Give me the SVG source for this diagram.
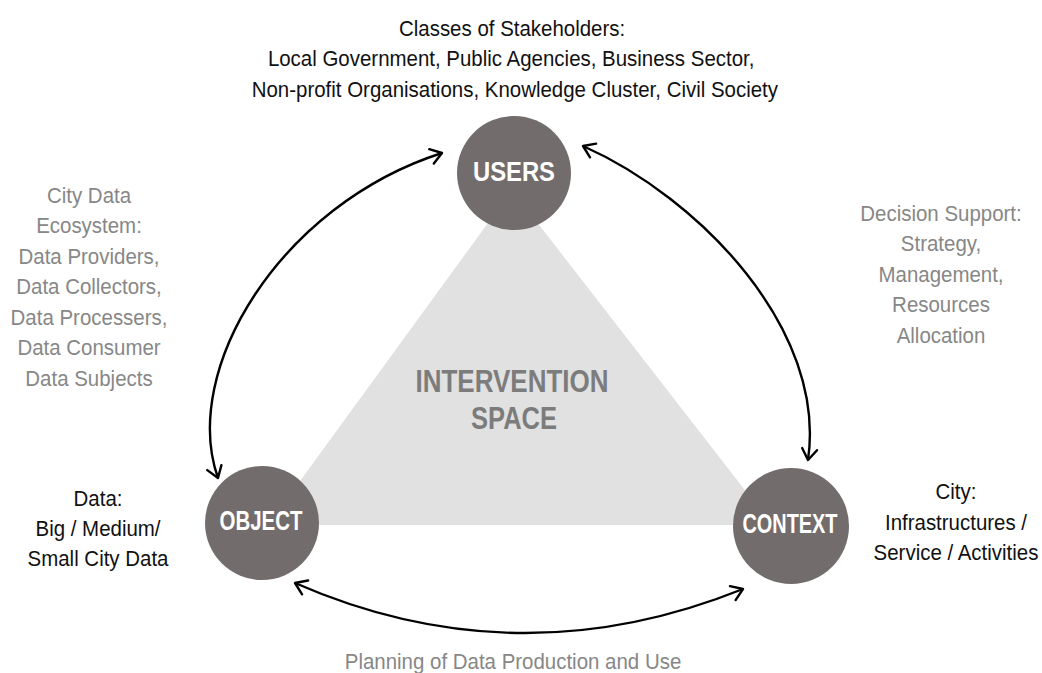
<svg xmlns="http://www.w3.org/2000/svg" width="1042" height="673" viewBox="0 0 1042 673">
  <style>
    .lbl { font-family: "Liberation Sans", Arial, sans-serif; font-size: 22px; text-anchor: middle; }
    .blk { fill: #111111; }
    .gry { fill: #878787; }
    .node circle { fill: #736c6c; }
    .node text { font-family: "Liberation Sans", Arial, sans-serif; font-weight: bold; font-size: 27px; fill: #ffffff; text-anchor: middle; }
    .big { font-family: "Liberation Sans", Arial, sans-serif; font-weight: bold; font-size: 32px; fill: #7c7c7c; text-anchor: middle; }
    .conn path { fill: none; stroke: #000000; stroke-width: 2.4; }
  </style>
  <defs>
    <marker id="chev" markerUnits="userSpaceOnUse" markerWidth="30" markerHeight="30" refX="0" refY="0" viewBox="-15 -15 30 30" orient="auto-start-reverse" overflow="visible">
      <path d="M -11 -7.5 L 0 0 L -11 7.5" fill="none" stroke="#000000" stroke-width="2.4" stroke-linecap="round" stroke-linejoin="round"/>
    </marker>
  </defs>
  <rect x="0" y="0" width="1042" height="673" fill="#ffffff"/>

  <g id="intervention-space">
    <polygon points="512,190 268,525 772,525" fill="#e1e1e1"/>
    <text class="big" x="512" y="392" textLength="193" lengthAdjust="spacingAndGlyphs">INTERVENTION</text>
    <text class="big" x="514" y="429" textLength="86" lengthAdjust="spacingAndGlyphs">SPACE</text>
  </g>

  <g id="connectors" class="conn">
    <path d="M 218 478 C 180 370, 280 205, 442 153" marker-start="url(#chev)" marker-end="url(#chev)"/>
    <path d="M 583 146 C 700 198, 827 330, 808 460" marker-start="url(#chev)" marker-end="url(#chev)"/>
    <path d="M 295 583 Q 517 680 743 589" marker-start="url(#chev)" marker-end="url(#chev)"/>
  </g>

  <g id="users" class="node">
    <circle cx="514" cy="173" r="57"/>
    <text x="514" y="181" font-size="28" textLength="82" lengthAdjust="spacingAndGlyphs">USERS</text>
  </g>
  <g id="object" class="node">
    <circle cx="262" cy="523" r="57"/>
    <text x="261" y="530" font-size="26" textLength="83" lengthAdjust="spacingAndGlyphs">OBJECT</text>
  </g>
  <g id="context" class="node">
    <circle cx="791" cy="526" r="58"/>
    <text x="790" y="533" font-size="26" textLength="95" lengthAdjust="spacingAndGlyphs">CONTEXT</text>
  </g>

  <g id="stakeholders-label" transform="translate(513,0) scale(0.93,1)">
    <text class="lbl blk" x="-1" y="36">Classes of Stakeholders:</text>
    <text class="lbl blk" x="-2" y="66">Local Government, Public Agencies, Business Sector,</text>
    <text class="lbl blk" x="2" y="97">Non-profit Organisations, Knowledge Cluster, Civil Society</text>
  </g>

  <g id="ecosystem-label" transform="translate(89,0) scale(0.93,1)">
    <text class="lbl gry" x="0" y="203">City Data</text>
    <text class="lbl gry" x="0" y="233.5">Ecosystem:</text>
    <text class="lbl gry" x="0" y="264">Data Providers,</text>
    <text class="lbl gry" x="0" y="294.5">Data Collectors,</text>
    <text class="lbl gry" x="0" y="325">Data Processers,</text>
    <text class="lbl gry" x="0" y="355.5">Data Consumer</text>
    <text class="lbl gry" x="0" y="386">Data Subjects</text>
  </g>

  <g id="decision-label" transform="translate(941,0) scale(0.93,1)">
    <text class="lbl gry" x="0" y="221">Decision Support:</text>
    <text class="lbl gry" x="0" y="251.5">Strategy,</text>
    <text class="lbl gry" x="0" y="282">Management,</text>
    <text class="lbl gry" x="0" y="312.5">Resources</text>
    <text class="lbl gry" x="0" y="343">Allocation</text>
  </g>

  <g id="data-label" transform="translate(98,0) scale(0.93,1)">
    <text class="lbl blk" x="0" y="506">Data:</text>
    <text class="lbl blk" x="0" y="536">Big / Medium/</text>
    <text class="lbl blk" x="0" y="566">Small City Data</text>
  </g>

  <g id="city-label" transform="translate(956,0) scale(0.93,1)">
    <text class="lbl blk" x="0" y="499">City:</text>
    <text class="lbl blk" x="0" y="530">Infrastructures /</text>
    <text class="lbl blk" x="0" y="560">Service / Activities</text>
  </g>

  <g id="planning-label" transform="translate(513,0) scale(0.93,1)">
    <text class="lbl gry" x="0" y="669">Planning of Data Production and Use</text>
  </g>
</svg>
